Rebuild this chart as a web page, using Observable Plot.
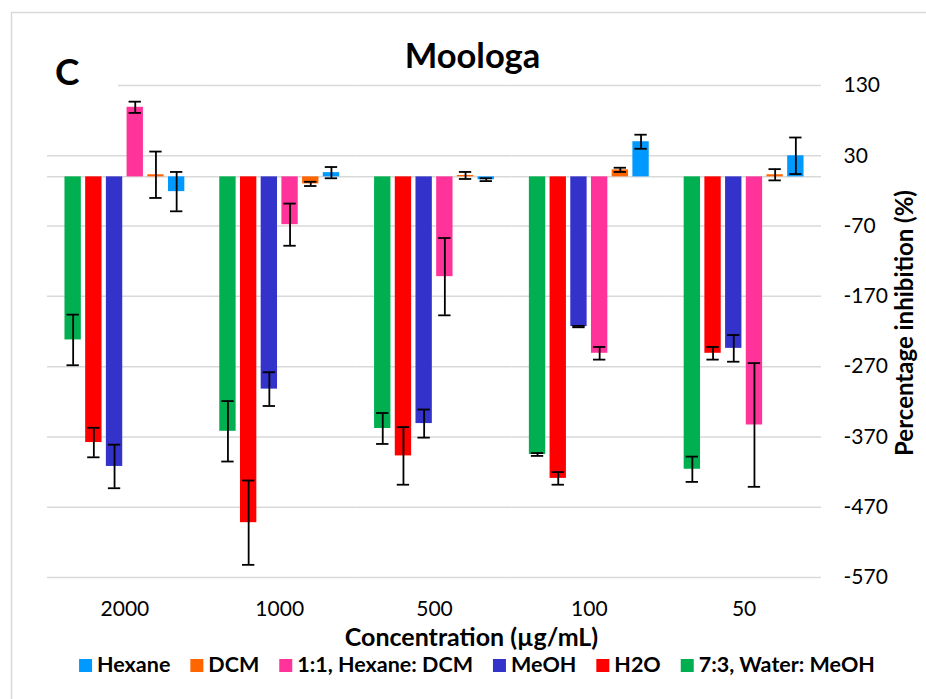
<!DOCTYPE html>
<html>
<head>
<meta charset="utf-8">
<script src="https://cdn.jsdelivr.net/npm/d3@7"></script>
<script src="https://cdn.jsdelivr.net/npm/@observablehq/plot@0.6"></script>
<style>
html, body { margin: 0; padding: 0; background: #fff; overflow: hidden; }
#wrap { position: relative; width: 926px; height: 699px; }
#wrap svg { position: absolute; left: 0; top: 0; }
</style>
</head>
<body>
<div id="wrap"></div>
<script>
// ---- data ----
const concentrations = ["2000", "1000", "500", "100", "50"];
const series = ["7:3, Water: MeOH", "H2O", "MeOH", "1:1, Hexane: DCM", "DCM", "Hexane"];
const seriesColors = ["#00b050", "#ff0000", "#3333cc", "#ff3399", "#ff6600", "#0099ff"];
const legendOrder = ["Hexane", "DCM", "1:1, Hexane: DCM", "MeOH", "H2O", "7:3, Water: MeOH"];

const waterMeoh    = [-232, -362, -358, -395, -416];
const waterMeohErr = [36, 43, 22, 2, 18];
const h2o          = [-378, -492, -397, -429, -251];
const h2oErr       = [21, 60, 41, 9, 9];
const meoh         = [-412, -302, -351, -213, -244];
const meohErr      = [31, 24, 20, 1, 19];
const hexDcm       = [99, -68, -142, -251, -353];
const hexDcmErr    = [8, 30, 55, 9, 88];
const dcm          = [3, -10, 2, 10, 3];
const dcmErr       = [33, 3, 5, 3, 8];
const hexane       = [-21, 6, -4, 50, 30];
const hexaneErr    = [28, 8, 2, 10, 26];

const yTicks = [130, 30, -70, -170, -270, -370, -470, -570];

const title = "Moologa";
const panelLetter = "C";
const xTitle = "Concentration (µg/mL)";
const yTitle = "Percentage inhibition (%)";

// ---- table ----
const seriesValues = [waterMeoh, h2o, meoh, hexDcm, dcm, hexane];
const seriesErrors = [waterMeohErr, h2oErr, meohErr, hexDcmErr, dcmErr, hexaneErr];
const rows = [];
series.forEach((s, i) => concentrations.forEach((c, j) => {
  rows.push({series: s, conc: c, value: seriesValues[i][j], err: seriesErrors[i][j]});
}));

const FONT = "Lato, 'Open Sans', sans-serif";
const W = 926, H = 699;

const chart = Plot.plot({
  width: W, height: H,
  marginLeft: 47, marginRight: 105, marginTop: 85, marginBottom: 122,
  style: {fontFamily: FONT, fontSize: "21px", color: "#000", background: "transparent", overflow: "visible"},
  fx: {domain: concentrations, padding: 0, round: false, axis: "bottom", label: null, tickSize: 0, tickPadding: 24},
  x: {domain: series, paddingInner: 0.21, paddingOuter: 0.844, round: false, axis: null},
  y: {domain: [-570, 130], ticks: yTicks, axis: "right", label: null, tickSize: 0, tickPadding: 22, tickFormat: d => String(d)},
  color: {domain: series, range: seriesColors},
  marks: [
    Plot.gridY(yTicks, {stroke: "#d9d9d9", strokeOpacity: 1, strokeWidth: 1.5}),
    Plot.ruleY([0], {stroke: "#d9d9d9", strokeWidth: 1.5}),
    Plot.barY(rows, {fx: "conc", x: "series", y: "value", fill: "series"}),
    Plot.ruleX(rows, {fx: "conc", x: "series", y1: d => d.value - d.err, y2: d => d.value + d.err, stroke: "#000", strokeWidth: 1.8}),
    Plot.tickY(rows, {fx: "conc", x: "series", y: d => d.value - d.err, stroke: "#000", strokeWidth: 1.8, inset: 2}),
    Plot.tickY(rows, {fx: "conc", x: "series", y: d => d.value + d.err, stroke: "#000", strokeWidth: 1.8, inset: 2})
  ]
});

const wrap = document.getElementById("wrap");
wrap.appendChild(chart);

// ---- overlay: frame, titles, legend ----
const colorOf = new Map(series.map((s, i) => [s, seriesColors[i]]));
const ov = d3.select(wrap).append("svg")
  .attr("width", W).attr("height", H)
  .style("font-family", FONT);

ov.append("rect").attr("x", 11.5).attr("y", 12.5).attr("width", 1000).attr("height", 1000)
  .attr("fill", "none").attr("stroke", "#d9d9d9").attr("stroke-width", 1.5);

// text box behind the panel letter hides the start of the top gridline
ov.append("rect").attr("x", 40).attr("y", 40).attr("width", 78).attr("height", 55).attr("fill", "#fff");
ov.append("text").attr("x", 55).attr("y", 85).attr("font-size", 37).attr("font-weight", 700)
  .attr("fill", "#000").text(panelLetter);

ov.append("text").attr("x", 472.5).attr("y", 68).attr("text-anchor", "middle")
  .attr("font-size", 34.5).attr("font-weight", 700).attr("fill", "#000").text(title);

ov.append("text").attr("x", 471.5).attr("y", 646).attr("text-anchor", "middle")
  .attr("font-size", 25).attr("font-weight", 700).attr("fill", "#000").text(xTitle);

ov.append("text").attr("transform", "translate(913,323) rotate(-90)").attr("text-anchor", "middle")
  .attr("font-size", 24).attr("font-weight", 700).attr("fill", "#000").text(yTitle);

// legend
const lg = ov.append("g");
let cx = 0;
const sw = 13, swGap = 5, itemGap = 20;
legendOrder.forEach((name, i) => {
  const g = lg.append("g").attr("transform", `translate(${cx},0)`);
  g.append("rect").attr("x", 0).attr("y", 659).attr("width", sw).attr("height", sw).attr("fill", colorOf.get(name));
  const t = g.append("text").attr("x", sw + swGap).attr("y", 672).attr("font-size", 21.5)
    .attr("font-weight", 700).attr("fill", "#000").text(name);
  const tw = t.node().getComputedTextLength();
  cx += sw + swGap + tw + (i < legendOrder.length - 1 ? itemGap : 0);
});
lg.attr("transform", `translate(${477 - cx / 2},0)`);
</script>
</body>
</html>
